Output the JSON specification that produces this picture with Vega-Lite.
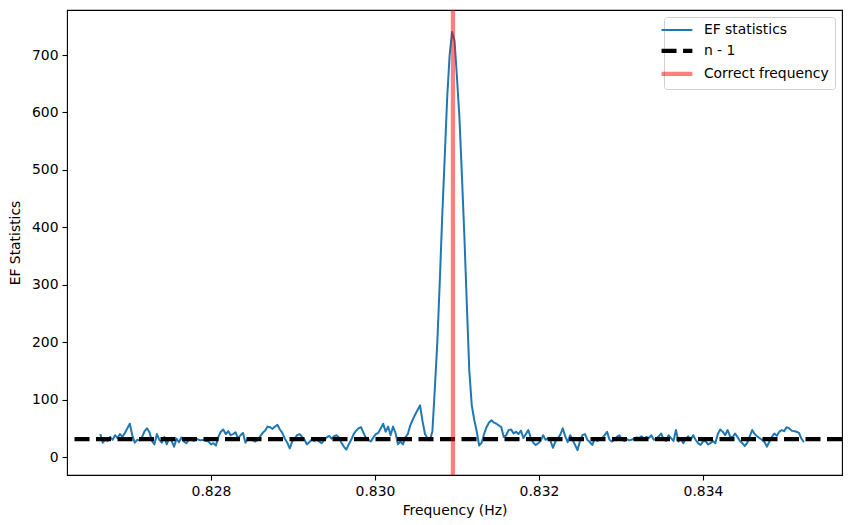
{
  "$schema": "https://vega.github.io/schema/vega-lite/v6.json",
  "width": 775,
  "height": 465,
  "autosize": "none",
  "padding": {"left": 67, "top": 10, "right": 8, "bottom": 50},
  "background": "white",
  "config": {
    "view": {"stroke": "black", "strokeWidth": 1.1},
    "font": "DejaVu Sans",
    "axis": {"domain": false, "grid": false, "tickColor": "black", "tickSize": 5, "tickWidth": 1.1, "labelColor": "black", "labelFontSize": 13.9, "labelFont": "DejaVu Sans", "titleFont": "DejaVu Sans", "titleFontSize": 13.9, "titleFontWeight": "normal", "titleColor": "black", "labelPadding": 4},
    "legend": {"orient": "top-right", "offset": 7, "padding": 6, "fillColor": "white", "strokeColor": "#d0d0d0", "cornerRadius": 3, "symbolType": "stroke", "symbolSize": 950, "symbolStrokeWidth": 3, "labelFontSize": 13.9, "labelFont": "DejaVu Sans", "labelColor": "black", "rowPadding": 5, "labelOffset": 20, "labelLimit": 300}
  },
  "layer": [
    {
      "data": {"values": [
{"f":0.82665,"v":40},{"f":0.82668,"v":25},{"f":0.82671,"v":30},{"f":0.82674,"v":28},{"f":0.82677,"v":35},{"f":0.82680,"v":30},{"f":0.82683,"v":38},{"f":0.82686,"v":33},{"f":0.82689,"v":40},{"f":0.82692,"v":35},
{"f":0.82695,"v":42},{"f":0.82698,"v":50},{"f":0.82701,"v":58},{"f":0.82704,"v":38},{"f":0.82707,"v":25},{"f":0.82710,"v":30},{"f":0.82713,"v":29},{"f":0.82716,"v":35},{"f":0.82719,"v":45},{"f":0.82722,"v":50},
{"f":0.82725,"v":43},{"f":0.82728,"v":28},{"f":0.82731,"v":22},{"f":0.82734,"v":40},{"f":0.82737,"v":30},{"f":0.82740,"v":25},{"f":0.82743,"v":35},{"f":0.82746,"v":22},{"f":0.82749,"v":33},{"f":0.82752,"v":28},
{"f":0.82755,"v":18},{"f":0.82758,"v":32},{"f":0.82761,"v":26},{"f":0.82764,"v":34},{"f":0.82767,"v":27},{"f":0.82770,"v":24},{"f":0.82773,"v":30},{"f":0.82776,"v":30},{"f":0.82779,"v":28},{"f":0.82782,"v":32},
{"f":0.82785,"v":30},{"f":0.82788,"v":29},{"f":0.82791,"v":30},{"f":0.82794,"v":28},{"f":0.82797,"v":27},{"f":0.82800,"v":22},{"f":0.82803,"v":24},{"f":0.82806,"v":20},{"f":0.82809,"v":35},{"f":0.82812,"v":44},
{"f":0.82815,"v":48},{"f":0.82818,"v":40},{"f":0.82821,"v":45},{"f":0.82824,"v":38},{"f":0.82827,"v":40},{"f":0.82830,"v":43},{"f":0.82833,"v":32},{"f":0.82836,"v":38},{"f":0.82839,"v":42},{"f":0.82842,"v":25},
{"f":0.82845,"v":32},{"f":0.82848,"v":31},{"f":0.82851,"v":29},{"f":0.82854,"v":27},{"f":0.82857,"v":30},{"f":0.82860,"v":36},{"f":0.82863,"v":42},{"f":0.82866,"v":46},{"f":0.82869,"v":53},{"f":0.82872,"v":52},
{"f":0.82875,"v":49},{"f":0.82878,"v":53},{"f":0.82881,"v":56},{"f":0.82884,"v":48},{"f":0.82887,"v":42},{"f":0.82890,"v":32},{"f":0.82893,"v":25},{"f":0.82896,"v":15},{"f":0.82899,"v":27},{"f":0.82902,"v":32},
{"f":0.82905,"v":38},{"f":0.82908,"v":40},{"f":0.82911,"v":35},{"f":0.82914,"v":30},{"f":0.82917,"v":22},{"f":0.82920,"v":26},{"f":0.82923,"v":31},{"f":0.82926,"v":28},{"f":0.82929,"v":30},{"f":0.82932,"v":27},
{"f":0.82935,"v":24},{"f":0.82938,"v":30},{"f":0.82941,"v":34},{"f":0.82944,"v":37},{"f":0.82947,"v":32},{"f":0.82950,"v":36},{"f":0.82953,"v":38},{"f":0.82956,"v":34},{"f":0.82959,"v":25},{"f":0.82962,"v":18},
{"f":0.82965,"v":13},{"f":0.82968,"v":22},{"f":0.82971,"v":30},{"f":0.82974,"v":40},{"f":0.82977,"v":46},{"f":0.82980,"v":50},{"f":0.82983,"v":52},{"f":0.82986,"v":42},{"f":0.82989,"v":33},{"f":0.82992,"v":30},
{"f":0.82995,"v":27},{"f":0.82998,"v":34},{"f":0.83001,"v":40},{"f":0.83004,"v":42},{"f":0.83007,"v":50},{"f":0.83010,"v":58},{"f":0.83013,"v":44},{"f":0.83016,"v":53},{"f":0.83019,"v":38},{"f":0.83022,"v":53},
{"f":0.83025,"v":42},{"f":0.83028,"v":22},{"f":0.83031,"v":27},{"f":0.83034,"v":22},{"f":0.83037,"v":34},{"f":0.83040,"v":40},{"f":0.83043,"v":55},{"f":0.83046,"v":65},{"f":0.83049,"v":74},{"f":0.83052,"v":82},
{"f":0.83055,"v":90},{"f":0.83058,"v":62},{"f":0.83061,"v":40},{"f":0.83064,"v":33},{"f":0.83067,"v":29},{"f":0.83070,"v":45},{"f":0.83073,"v":120},{"f":0.83076,"v":200},{"f":0.83079,"v":305},{"f":0.83082,"v":420},
{"f":0.83085,"v":521},{"f":0.83088,"v":625},{"f":0.83091,"v":700},{"f":0.83094,"v":740},{"f":0.83097,"v":725},{"f":0.83100,"v":660},{"f":0.83103,"v":590},{"f":0.83106,"v":490},{"f":0.83109,"v":384},{"f":0.83112,"v":265},
{"f":0.83115,"v":150},{"f":0.83118,"v":90},{"f":0.83121,"v":65},{"f":0.83124,"v":45},{"f":0.83127,"v":20},{"f":0.83130,"v":25},{"f":0.83133,"v":40},{"f":0.83136,"v":52},{"f":0.83139,"v":60},{"f":0.83142,"v":64},
{"f":0.83145,"v":60},{"f":0.83148,"v":58},{"f":0.83151,"v":55},{"f":0.83154,"v":52},{"f":0.83157,"v":35},{"f":0.83160,"v":38},{"f":0.83163,"v":47},{"f":0.83166,"v":48},{"f":0.83169,"v":41},{"f":0.83172,"v":44},
{"f":0.83175,"v":40},{"f":0.83178,"v":46},{"f":0.83181,"v":33},{"f":0.83184,"v":40},{"f":0.83187,"v":47},{"f":0.83190,"v":33},{"f":0.83193,"v":25},{"f":0.83196,"v":21},{"f":0.83199,"v":24},{"f":0.83202,"v":28},
{"f":0.83205,"v":38},{"f":0.83208,"v":30},{"f":0.83211,"v":33},{"f":0.83214,"v":28},{"f":0.83217,"v":16},{"f":0.83220,"v":27},{"f":0.83223,"v":32},{"f":0.83226,"v":39},{"f":0.83229,"v":50},{"f":0.83232,"v":36},
{"f":0.83235,"v":26},{"f":0.83238,"v":38},{"f":0.83241,"v":30},{"f":0.83244,"v":21},{"f":0.83247,"v":12},{"f":0.83250,"v":28},{"f":0.83253,"v":38},{"f":0.83256,"v":40},{"f":0.83259,"v":30},{"f":0.83262,"v":26},
{"f":0.83265,"v":21},{"f":0.83268,"v":32},{"f":0.83271,"v":28},{"f":0.83274,"v":30},{"f":0.83277,"v":33},{"f":0.83280,"v":38},{"f":0.83283,"v":44},{"f":0.83286,"v":30},{"f":0.83289,"v":27},{"f":0.83292,"v":30},
{"f":0.83295,"v":35},{"f":0.83298,"v":38},{"f":0.83301,"v":30},{"f":0.83304,"v":28},{"f":0.83307,"v":31},{"f":0.83310,"v":29},{"f":0.83313,"v":30},{"f":0.83316,"v":32},{"f":0.83319,"v":34},{"f":0.83322,"v":33},
{"f":0.83325,"v":36},{"f":0.83328,"v":32},{"f":0.83331,"v":35},{"f":0.83334,"v":33},{"f":0.83337,"v":38},{"f":0.83340,"v":30},{"f":0.83343,"v":32},{"f":0.83346,"v":36},{"f":0.83349,"v":41},{"f":0.83352,"v":30},
{"f":0.83355,"v":28},{"f":0.83358,"v":38},{"f":0.83361,"v":33},{"f":0.83364,"v":28},{"f":0.83367,"v":47},{"f":0.83370,"v":27},{"f":0.83373,"v":32},{"f":0.83376,"v":24},{"f":0.83379,"v":32},{"f":0.83382,"v":36},
{"f":0.83385,"v":30},{"f":0.83388,"v":38},{"f":0.83391,"v":30},{"f":0.83394,"v":24},{"f":0.83397,"v":21},{"f":0.83400,"v":27},{"f":0.83403,"v":28},{"f":0.83406,"v":22},{"f":0.83409,"v":24},{"f":0.83412,"v":28},
{"f":0.83415,"v":24},{"f":0.83418,"v":40},{"f":0.83421,"v":48},{"f":0.83424,"v":44},{"f":0.83427,"v":38},{"f":0.83430,"v":47},{"f":0.83433,"v":36},{"f":0.83436,"v":34},{"f":0.83439,"v":41},{"f":0.83442,"v":35},
{"f":0.83445,"v":28},{"f":0.83448,"v":24},{"f":0.83451,"v":19},{"f":0.83454,"v":25},{"f":0.83457,"v":36},{"f":0.83460,"v":47},{"f":0.83463,"v":40},{"f":0.83466,"v":36},{"f":0.83469,"v":33},{"f":0.83472,"v":30},
{"f":0.83475,"v":26},{"f":0.83478,"v":18},{"f":0.83481,"v":27},{"f":0.83484,"v":35},{"f":0.83487,"v":41},{"f":0.83490,"v":37},{"f":0.83493,"v":44},{"f":0.83496,"v":47},{"f":0.83499,"v":45},{"f":0.83502,"v":52},
{"f":0.83505,"v":50},{"f":0.83508,"v":46},{"f":0.83511,"v":45},{"f":0.83514,"v":44},{"f":0.83517,"v":42},{"f":0.83520,"v":32},{"f":0.83523,"v":26}
      ]},
      "mark": {"type": "line", "strokeWidth": 2, "strokeJoin": "round", "strokeCap": "butt", "clip": true},
      "encoding": {
        "x": {"field": "f", "type": "quantitative", "title": "Frequency (Hz)",
              "scale": {"domain": [0.826244, 0.835695], "nice": false, "zero": false},
              "axis": {"values": [0.828, 0.830, 0.832, 0.834], "format": ".3f", "titlePadding": 6}},
        "y": {"field": "v", "type": "quantitative", "title": "EF Statistics",
              "scale": {"domain": [-31.3, 778.4], "nice": false, "zero": false},
              "axis": {"values": [0, 100, 200, 300, 400, 500, 600, 700], "titlePadding": 9}},
        "color": {"datum": "EF statistics", "type": "nominal",
                  "scale": {"domain": ["EF statistics", "n - 1", "Correct frequency"], "range": ["#1f77b4", "#000000", "#ff0000"]},
                  "legend": {"title": null, "encode": {"symbols": {"update": {
                    "strokeWidth": {"signal": "datum.value === 'EF statistics' ? 2 : 4.2"},
                    "strokeOpacity": {"signal": "datum.value === 'Correct frequency' ? 0.5 : 1"}}}}}},
        "strokeDash": {"datum": "EF statistics", "type": "nominal",
                  "scale": {"domain": ["EF statistics", "n - 1", "Correct frequency"], "range": [[1, 0], [15, 6.5], [1, 0]]},
                  "legend": {"title": null}}
      }
    },
    {
      "data": {"values": [{"series": "n - 1", "level": 31}]},
      "mark": {"type": "rule", "strokeWidth": 4.2},
      "encoding": {
        "y": {"field": "level", "type": "quantitative"},
        "color": {"field": "series", "type": "nominal", "legend": {"title": null}},
        "strokeDash": {"field": "series", "type": "nominal", "legend": {"title": null}}
      }
    },
    {
      "data": {"values": [{"series": "Correct frequency", "freq": 0.83095}]},
      "mark": {"type": "rule", "strokeWidth": 4.2, "opacity": 0.5},
      "encoding": {
        "x": {"field": "freq", "type": "quantitative"},
        "color": {"field": "series", "type": "nominal", "legend": {"title": null}},
        "strokeDash": {"field": "series", "type": "nominal", "legend": {"title": null}}
      }
    }
  ]
}
